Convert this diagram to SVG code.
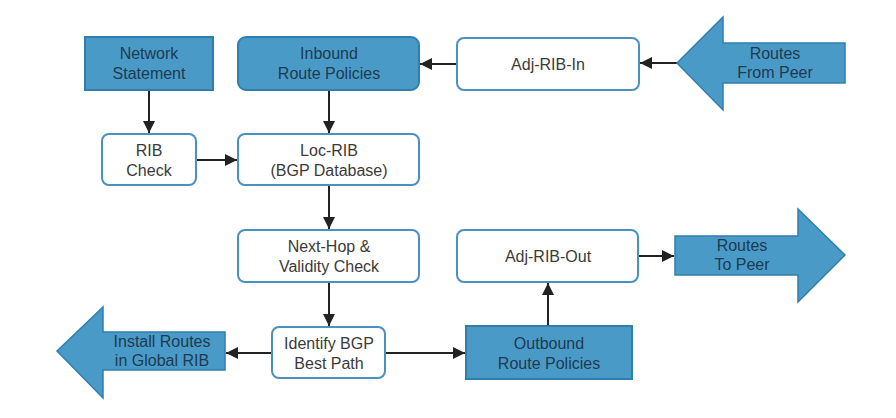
<svg xmlns="http://www.w3.org/2000/svg" width="896" height="418" viewBox="0 0 896 418">
<defs>
<style>
.blue{fill:#4a9ac8;stroke:#2f7fae;stroke-width:2}
.white{fill:#ffffff;stroke:#4a90c0;stroke-width:2}
.big{fill:#4a9ac8;stroke:#2f7fae;stroke-width:1.5}
text{font-family:"Liberation Sans",Arial,sans-serif;font-size:16px;text-anchor:middle}
.tb{fill:#1d3b50}
.tw{fill:#3a3a3a}
.conn{stroke:#222;stroke-width:2;fill:none;marker-end:url(#ah)}
</style>
<marker id="ah" viewBox="0 0 10 10" refX="10" refY="5" markerWidth="6" markerHeight="6" markerUnits="strokeWidth" orient="auto">
<path d="M0,0 L10,5 L0,10 Z" fill="#222"/>
</marker>
</defs>
<rect width="896" height="418" fill="#ffffff"/>
<g id="connectors">
<line class="conn" x1="149" y1="91" x2="149" y2="133"/>
<line class="conn" x1="329" y1="91" x2="329" y2="133"/>
<line class="conn" x1="197" y1="160" x2="237" y2="160"/>
<line class="conn" x1="329" y1="186" x2="329" y2="229"/>
<line class="conn" x1="329" y1="283" x2="329" y2="326"/>
<line class="conn" x1="271" y1="353" x2="226" y2="353"/>
<line class="conn" x1="386" y1="353" x2="465" y2="353"/>
<line class="conn" x1="548" y1="325" x2="548" y2="283"/>
<line class="conn" x1="639" y1="256" x2="674" y2="256"/>
<line class="conn" x1="456" y1="64" x2="420" y2="64"/>
<line class="conn" x1="677" y1="63" x2="640" y2="63"/>
</g>
<g id="network-statement">
<rect class="blue" x="85" y="37" width="128" height="53"/>
<text class="tb" x="149" y="59">Network</text>
<text class="tb" x="149" y="79">Statement</text>
</g>
<g id="inbound-route-policies">
<rect class="blue" x="238" y="37" width="181" height="53" rx="8"/>
<text class="tb" x="329" y="59">Inbound</text>
<text class="tb" x="329" y="79">Route Policies</text>
</g>
<g id="adj-rib-in">
<rect class="white" x="457" y="38" width="182" height="52" rx="7"/>
<text class="tw" x="548" y="70">Adj-RIB-In</text>
</g>
<g id="routes-from-peer">
<polygon class="big" points="677,63 723,17 723,43 845,43 845,83 723,83 723,110"/>
<text class="tb" x="775" y="59">Routes</text>
<text class="tb" x="775" y="78">From Peer</text>
</g>
<g id="rib-check">
<rect class="white" x="102" y="134" width="94" height="51" rx="7"/>
<text class="tw" x="149" y="156">RIB</text>
<text class="tw" x="149" y="176">Check</text>
</g>
<g id="loc-rib">
<rect class="white" x="238" y="134" width="181" height="51" rx="7"/>
<text class="tw" x="329" y="156">Loc-RIB</text>
<text class="tw" x="329" y="176">(BGP Database)</text>
</g>
<g id="next-hop">
<rect class="white" x="238" y="230" width="181" height="52" rx="7"/>
<text class="tw" x="329" y="252">Next-Hop &amp;</text>
<text class="tw" x="329" y="272">Validity Check</text>
</g>
<g id="identify-bgp-best-path">
<rect class="white" x="272" y="327" width="113" height="51" rx="7"/>
<text class="tw" x="329" y="349">Identify BGP</text>
<text class="tw" x="329" y="369">Best Path</text>
</g>
<g id="install-routes">
<polygon class="big" points="57,351 103,307 103,332 225,332 225,370 103,370 103,398"/>
<text class="tb" x="162" y="347">Install Routes</text>
<text class="tb" x="162" y="366">in Global RIB</text>
</g>
<g id="outbound-route-policies">
<rect class="blue" x="466" y="326" width="166" height="53"/>
<text class="tb" x="549" y="349">Outbound</text>
<text class="tb" x="549" y="369">Route Policies</text>
</g>
<g id="adj-rib-out">
<rect class="white" x="457" y="230" width="181" height="52" rx="7"/>
<text class="tw" x="548" y="262">Adj-RIB-Out</text>
</g>
<g id="routes-to-peer">
<polygon class="big" points="675,236 798,236 798,209 845,255 798,302 798,275 675,275"/>
<text class="tb" x="742" y="251">Routes</text>
<text class="tb" x="742" y="270">To Peer</text>
</g>
</svg>
